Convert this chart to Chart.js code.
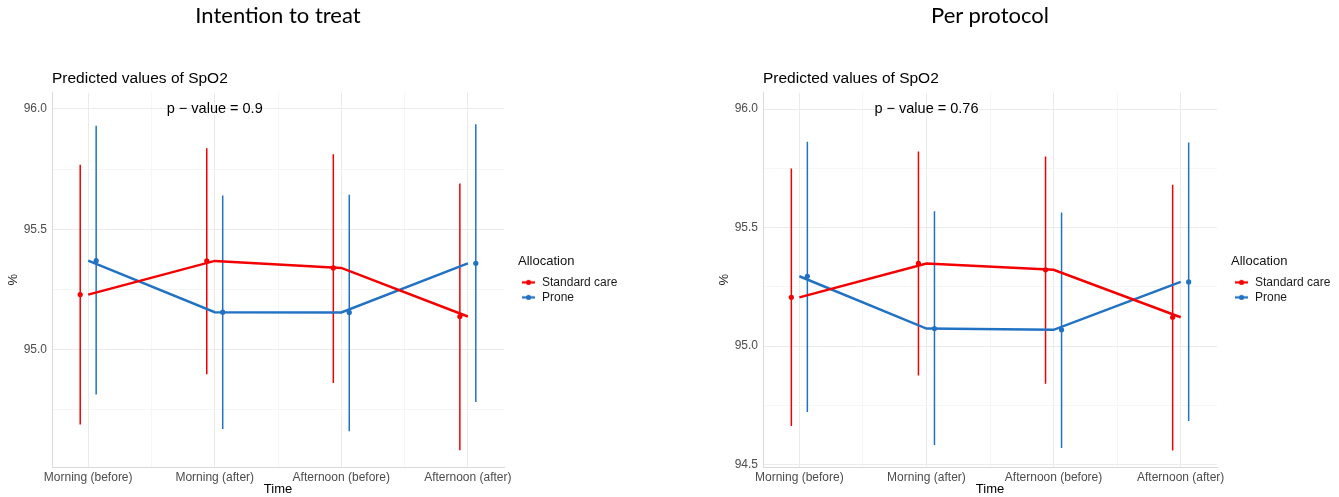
<!DOCTYPE html>
<html><head><meta charset="utf-8">
<script src="https://cdn.jsdelivr.net/npm/chart.js@4.4.1/dist/chart.umd.min.js"></script>
<style>
html,body{margin:0;padding:0;background:#fff;}
#wrap{position:relative;width:1339px;height:497px;overflow:hidden;background:#fff;}
.panel{position:absolute;top:0;height:497px;}
.bigtitle{position:absolute;font-family:Lato,'Open Sans',sans-serif;font-size:22px;color:#000;white-space:nowrap;transform:translateX(-50%);line-height:26px;}
</style></head>
<body><div id="wrap">
<div class="panel" style="left:0;width:711px"><canvas id="c1" width="711" height="497"></canvas></div>
<div class="panel" style="left:711px;width:628px"><canvas id="c2" width="628" height="497"></canvas></div>
<div class="bigtitle" style="left:278px;top:2px">Intention to treat</div>
<div class="bigtitle" style="left:990px;top:2px">Per protocol</div>
</div>
<script>
// ---- data ----
const categories = ['Morning (before)', 'Morning (after)', 'Afternoon (before)', 'Afternoon (after)'];
const seriesNames = ['Standard care', 'Prone'];
const legendTitle = 'Allocation';
const plotTitle = 'Predicted values of SpO2';

// Intention to treat
const ittStandard     = [95.229, 95.369, 95.340, 95.138];
const ittStandardLow  = [94.690, 94.898, 94.862, 94.583];
const ittStandardHigh = [95.768, 95.837, 95.812, 95.690];
const ittProne        = [95.370, 95.156, 95.155, 95.359];
const ittProneLow     = [94.814, 94.671, 94.661, 94.783];
const ittProneHigh    = [95.930, 95.641, 95.644, 95.937];
const ittPValue = 'p \u2212 value = 0.9';

// Per protocol
const ppStandard     = [95.206, 95.349, 95.322, 95.122];
const ppStandardLow  = [94.663, 94.876, 94.841, 94.560];
const ppStandardHigh = [95.750, 95.821, 95.800, 95.681];
const ppProne        = [95.295, 95.074, 95.069, 95.271];
const ppProneLow     = [94.722, 94.583, 94.570, 94.684];
const ppProneHigh    = [95.863, 95.569, 95.564, 95.859];
const ppPValue = 'p \u2212 value = 0.76';

// ticks
const ittYMajor = [95.0, 95.5, 96.0];
const ppYMajor  = [94.5, 95.0, 95.5, 96.0];
const yMinor    = [94.75, 95.25, 95.75];
const xMajor    = [0, 1, 2, 3];
const xMinor    = [0.5, 1.5, 2.5];

// ---- styling ----
const RED = '#f50000';
const BLUE = '#2272c3';
const FONT = "'Liberation Sans', Arial, sans-serif";
Chart.defaults.font.family = FONT;

function legendIcon(color) {
  const c = document.createElement('canvas');
  c.width = 13; c.height = 7;
  const g = c.getContext('2d');
  g.strokeStyle = color; g.lineWidth = 2.2;
  g.beginPath(); g.moveTo(0, 3.5); g.lineTo(13, 3.5); g.stroke();
  g.fillStyle = color;
  g.beginPath(); g.arc(6.5, 3.5, 2.6, 0, Math.PI * 2); g.fill();
  return c;
}

const pValuePlugin = {
  id: 'pvalue',
  afterDatasetsDraw(chart, args, opts) {
    const {ctx, scales: {x, y}} = chart;
    ctx.save();
    ctx.font = '14.5px ' + FONT;
    ctx.fillStyle = '#000';
    ctx.textAlign = 'center';
    ctx.textBaseline = 'middle';
    ctx.fillText(opts.text, x.getPixelForValue(opts.xValue), y.getPixelForValue(opts.yValue));
    ctx.restore();
  }
};

function makeChart(canvasId, d, yMajor, yMin, yMax, pText, targetRight) {
  const dodge = 0.063;
  const line = (vals) => vals.map((v, i) => ({x: i, y: v}));
  const pts = (vals, off) => vals.map((v, i) => ({x: i + off, y: v}));
  const err = (lo, hi, off) => lo.flatMap((l, i) => [{x: i + off, y: l}, {x: i + off, y: hi[i]}, {x: i + off, y: null}]);
  const yTicks = yMinor.concat(yMajor).sort((a, b) => a - b);
  const xTicks = xMinor.concat(xMajor).sort((a, b) => a - b);

  const datasets = [
    {label: seriesNames[0], data: line(d.std), borderColor: RED, backgroundColor: RED, borderWidth: 2.5, pointRadius: 0, pointStyle: legendIcon(RED)},
    {label: seriesNames[1], data: line(d.pr), borderColor: BLUE, backgroundColor: BLUE, borderWidth: 2.5, pointRadius: 0, pointStyle: legendIcon(BLUE)},
    {label: '_p0', data: pts(d.std, -dodge), showLine: false, pointRadius: 2.6, pointBackgroundColor: RED, pointBorderWidth: 0},
    {label: '_p1', data: pts(d.pr, dodge), showLine: false, pointRadius: 2.6, pointBackgroundColor: BLUE, pointBorderWidth: 0},
    {label: '_e0', data: err(d.stdLo, d.stdHi, -dodge), borderColor: RED, borderWidth: 1.5, pointRadius: 0, spanGaps: false},
    {label: '_e1', data: err(d.prLo, d.prHi, dodge), borderColor: BLUE, borderWidth: 1.5, pointRadius: 0, spanGaps: false}
  ];

  const cfg = {
    type: 'line',
    data: {datasets},
    options: {
      responsive: false,
      animation: false,
      events: [],
      layout: {padding: {left: 0, top: 0, bottom: 0, right: 0}},
      scales: {
        x: {
          type: 'linear', min: -0.286, max: 3.286,
          afterBuildTicks: s => { s.ticks = xTicks.map(v => ({value: v})); },
          afterFit: s => { s.height = 30; },
          ticks: {
            autoSkip: false, maxRotation: 0, padding: 3, color: '#4d4d4d', font: {size: 12},
            callback: v => (xMajor.includes(v) ? categories[v] : '')
          },
          grid: {
            drawTicks: false,
            color: c => (c.tick && xMajor.includes(c.tick.value) ? '#ebebeb' : '#f4f4f4'),
            lineWidth: c => (c.tick && xMajor.includes(c.tick.value) ? 1 : 0.8)
          },
          border: {display: true, color: '#d9d9d9', width: 1},
          title: {display: true, text: 'Time', color: '#000', font: {size: 13}, padding: {top: 0, bottom: 0}}
        },
        y: {
          type: 'linear', min: yMin, max: yMax,
          afterBuildTicks: s => { s.ticks = yTicks.map(v => ({value: v})); },
          afterFit: s => { s.width = 52; },
          ticks: {
            padding: 5, color: '#4d4d4d', font: {size: 12},
            callback: v => (yMajor.includes(v) ? v.toFixed(1) : '')
          },
          grid: {
            drawTicks: false,
            color: c => (c.tick && yMajor.includes(c.tick.value) ? '#ebebeb' : '#f4f4f4'),
            lineWidth: c => (c.tick && yMajor.includes(c.tick.value) ? 1 : 0.8)
          },
          border: {display: true, color: '#d9d9d9', width: 1},
          title: {display: true, text: '%', color: '#222', font: {size: 13}, padding: {top: 6, bottom: 0}}
        },
        gap: {
          type: 'linear', position: 'right', display: true,
          grid: {display: false, drawTicks: false}, border: {display: false}, ticks: {display: false},
          afterFit: s => { s.width = 14; }
        }
      },
      plugins: {
        tooltip: {enabled: false},
        title: {
          display: true, text: plotTitle, align: 'start', fullSize: false, color: '#000',
          font: {size: 15.5, weight: 'normal'}, padding: {top: 69, bottom: 5}
        },
        legend: {
          display: true, position: 'right', align: 'center', fullSize: false,
          title: {display: true, text: legendTitle, position: 'start', color: '#111', font: {size: 13}, padding: {top: 1.5, bottom: 3}},
          labels: {
            usePointStyle: true, pointStyleWidth: 15, padding: 3, color: '#1a1a1a', font: {size: 12},
            filter: item => item.datasetIndex < 2
          }
        },
        pvalue: {text: pText, xValue: 1, yValue: 96.0}
      }
    },
    plugins: [pValuePlugin]
  };
  const chart = new Chart(document.getElementById(canvasId), cfg);
  let padR = 0;
  for (let k = 0; k < 8; k++) {
    const diff = chart.chartArea.right - targetRight;
    if (Math.abs(diff) < 0.05) break;
    padR += diff;
    chart.options.layout.padding = {left: 0, top: 0, bottom: 0, right: padR};
    chart.update('none');
  }
  return chart;
}

makeChart('c1', {std: ittStandard, stdLo: ittStandardLow, stdHi: ittStandardHigh, pr: ittProne, prLo: ittProneLow, prHi: ittProneHigh},
  ittYMajor, 94.513, 96.068, ittPValue, 504);
makeChart('c2', {std: ppStandard, stdLo: ppStandardLow, stdHi: ppStandardHigh, pr: ppProne, prLo: ppProneLow, prHi: ppProneHigh},
  ppYMajor, 94.49, 96.07, ppPValue, 506);
</script>
</body></html>
